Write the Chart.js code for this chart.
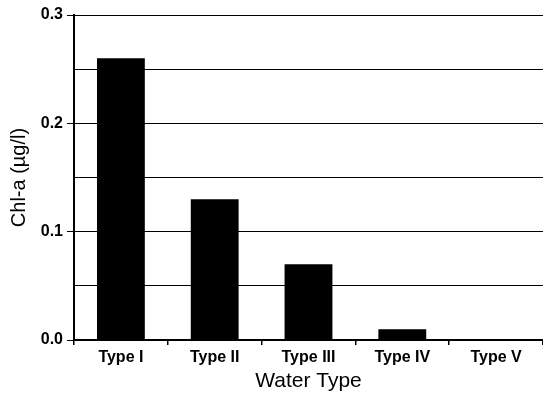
<!DOCTYPE html>
<html>
<head>
<meta charset="utf-8">
<script src="https://cdn.jsdelivr.net/npm/chart.js@4"></script>
<style>
  html, body { margin: 0; padding: 0; background: #fff; }
  #wrap { width: 543px; height: 400px; }
</style>
</head>
<body>
<div id="wrap"><canvas id="chart" width="543" height="400"></canvas></div>
<script>
// Chl-a by water type
const waterTypes = ['Type I', 'Type II', 'Type III', 'Type IV', 'Type V'];
const chlValues = [0.26, 0.13, 0.07, 0.01, 0.0];
const yLabels = ['0.0', '0.1', '0.2', '0.3'];

const ink = '#000000';
const font = "'Liberation Sans', Arial, sans-serif";

// labelled ticks sit on multiples of 0.1, the rest are plain gridlines
const isMajor = (value) => Math.abs(value * 10 - Math.round(value * 10)) < 1e-6;

const ctx = document.getElementById('chart').getContext('2d');

new Chart(ctx, {
    type: 'bar',
    data: {
        labels: waterTypes,
        datasets: [{
            label: 'Chl-a',
            data: chlValues,
            backgroundColor: ink,
            borderWidth: 0,
            categoryPercentage: 1.0,
            barPercentage: 0.51
        }]
    },
    options: {
        responsive: false,
        animation: false,
        layout: {
            padding: { top: 15, right: 0, bottom: 0, left: 0 }
        },
        plugins: {
            legend: { display: false },
            tooltip: { enabled: false }
        },
        scales: {
            x: {
                grid: {
                    offset: true,
                    drawOnChartArea: false,
                    drawTicks: true,
                    tickLength: 5,
                    color: ink,
                    lineWidth: 1.5
                },
                border: { color: ink, width: 2 },
                ticks: {
                    color: ink,
                    padding: 3,
                    font: { family: font, size: 16, weight: 'bold' }
                },
                title: {
                    display: true,
                    text: 'Water Type',
                    color: ink,
                    padding: { top: 4, bottom: 6 },
                    font: { family: font, size: 21 }
                },
                afterFit: (scale) => { scale.height = 60; }
            },
            y: {
                min: 0,
                max: 0.3,
                grid: {
                    color: ink,
                    lineWidth: 1,
                    tickLength: 7,
                    tickColor: (c) => (c.tick && isMajor(c.tick.value)) ? ink : 'rgba(0,0,0,0)'
                },
                border: { color: ink, width: 2 },
                ticks: {
                    stepSize: 0.05,
                    color: ink,
                    padding: 4,
                    font: { family: font, size: 16, weight: 'bold' },
                    callback: (value) => isMajor(value) ? yLabels[Math.round(value * 10)] : ''
                },
                title: {
                    display: true,
                    text: 'Chl-a (µg/l)',
                    color: ink,
                    padding: { top: 7, bottom: 6 },
                    font: { family: font, size: 20 }
                },
                afterFit: (scale) => { scale.width = 74; }
            }
        }
    }
});
</script>
</body>
</html>
